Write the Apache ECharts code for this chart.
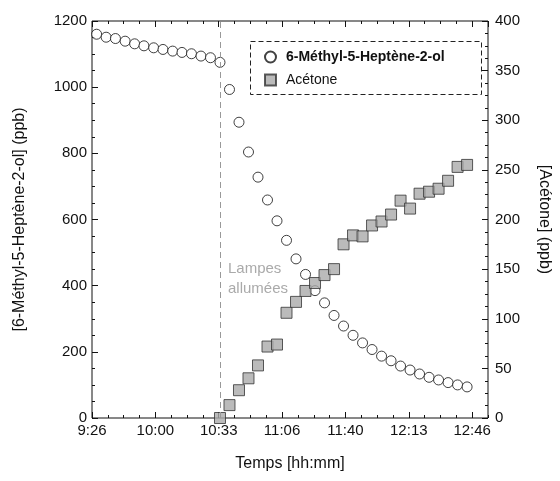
<!DOCTYPE html>
<html>
<head>
<meta charset="utf-8">
<script src="https://cdn.jsdelivr.net/npm/echarts@6/dist/echarts.min.js"></script>
<style>
  html, body { margin: 0; padding: 0; background: #fff; }
  #chart { width: 560px; height: 481px; }
</style>
</head>
<body>
<div id="chart"></div>
<script>
// time axis in minutes since midnight (9:26:40 .. 12:55)
var tMin = 1700 / 3, tMax = 775, tStep = 100 / 3;
var timeLabels = ['9:26', '10:00', '10:33', '11:06', '11:40', '12:13', '12:46'];
var lampTime = 634.4;

// sample times (minutes since midnight)
var times = [569.1, 574.1, 579.0, 584.1, 589.1, 594.0, 599.1, 604.0, 609.1, 614.0,
  619.0, 624.0, 629.0, 634.0, 639.0, 644.0, 649.0, 654.0, 659.0, 664.0,
  669.0, 674.0, 679.0, 684.0, 689.0, 694.0, 699.0, 704.0, 709.0, 714.0,
  719.0, 724.0, 729.0, 734.0, 739.0, 744.0, 749.0, 754.0, 759.0, 764.0];

var methylVals = [1160, 1151, 1147, 1139, 1131, 1125, 1119, 1114, 1109, 1105,
  1101, 1094, 1089, 1075, 993, 894, 804, 728, 659, 596,
  537, 481, 434, 385, 348, 310, 278, 250, 227, 207,
  187, 173, 157, 145, 133, 123, 115, 107, 100, 94];

// acetone starts at lamp switch-on (index 13 of times)
var acetoneVals = [0, 13, 28, 40, 53, 72, 74, 106, 117, 128,
  136, 144, 150, 175, 184, 183, 194, 198, 205, 219,
  211, 226, 228, 231, 239, 253, 255];

var nameMethyl = '6-Méthyl-5-Heptène-2-ol';
var nameAcetone = 'Acétone';

var methylData = methylVals.map(function (v, i) { return [times[i], v]; });
var acetoneData = acetoneVals.map(function (v, i) { return [times[i + 13], v]; });

var font = 'Liberation Sans, Arial, sans-serif';
var axisCol = '#111';

function xLabel(v) {
  var i = Math.round((v - tMin) / tStep);
  return timeLabels[i] || '';
}

// frame comes from the grid border, axes only give ticks + labels
function xAxisBase(pos, major, show) {
  return {
    type: 'value', position: pos, min: tMin, max: tMax,
    interval: major ? tStep : tStep / 4,
    axisLine: { show: false, onZero: false },
    axisTick: { show: true, inside: true, length: major ? 6 : 3, lineStyle: { color: axisCol, width: 1 } },
    axisLabel: {
      show: show, showMaxLabel: false, margin: 5,
      fontFamily: font, fontSize: 15, color: '#111', formatter: xLabel
    },
    splitLine: { show: false }
  };
}

function yAxisBase(pos, max, step) {
  return {
    type: 'value', position: pos, min: 0, max: max, interval: step,
    nameLocation: 'middle',
    nameTextStyle: { fontFamily: font, fontSize: 16, color: '#111' },
    axisLine: { show: false },
    axisTick: { show: true, inside: true, length: 6, lineStyle: { color: axisCol, width: 1 } },
    minorTick: { show: true, splitNumber: 4, length: 3, lineStyle: { color: axisCol, width: 1 } },
    axisLabel: {
      margin: 5, fontFamily: font, fontSize: 15, color: '#111',
      formatter: function (v) { return String(v); }
    },
    splitLine: { show: false }
  };
}

var xBottom = xAxisBase('bottom', true, true);
xBottom.name = 'Temps [hh:mm]';
xBottom.nameLocation = 'middle';
xBottom.nameGap = 38;
xBottom.nameTextStyle = { fontFamily: font, fontSize: 16, color: '#111' };

var yLeft = yAxisBase('left', 1200, 200);
yLeft.name = '[6-Méthyl-5-Heptène-2-ol] (ppb)';
yLeft.nameGap = 64;
yLeft.nameRotate = 90;

var yRight = yAxisBase('right', 400, 50);
yRight.name = '[Acétone] (ppb)';
yRight.nameGap = 48;
yRight.nameRotate = -90;
yRight.axisLabel.margin = 7;

var chart = echarts.init(document.getElementById('chart'));
chart.setOption({
  animation: false,
  backgroundColor: '#fff',
  grid: {
    left: 92, right: 71, top: 21, bottom: 63,
    show: true, borderColor: axisCol, borderWidth: 1, backgroundColor: 'rgba(0,0,0,0)'
  },
  legend: {
    orient: 'vertical', left: 259, top: 45, itemGap: 9,
    itemWidth: 11, itemHeight: 11,
    data: [nameMethyl, nameAcetone],
    formatter: function (n) { return n === nameMethyl ? '{b|' + n + '}' : n; },
    textStyle: {
      fontFamily: font, fontSize: 14, color: '#111', padding: [0, 0, 0, 5],
      rich: { b: { fontFamily: font, fontSize: 14, fontWeight: 'bold', color: '#111' } }
    }
  },
  graphic: [
    {
      type: 'rect', left: 250, top: 41, z: 10,
      shape: { width: 231, height: 53 },
      style: { fill: 'rgba(0,0,0,0)', stroke: '#222', lineWidth: 1, lineDash: [5, 3] }
    },
    {
      type: 'text', left: 228, top: 259, z: 10,
      style: {
        text: 'Lampes\nallumées', fill: '#aaa', font: '15px ' + font,
        align: 'center', lineHeight: 20, x: 30
      }
    }
  ],
  xAxis: [
    xBottom,
    xAxisBase('bottom', false, false),
    xAxisBase('top', true, false),
    xAxisBase('top', false, false)
  ],
  yAxis: [yLeft, yRight],
  series: [
    {
      name: nameMethyl, type: 'scatter', xAxisIndex: 0, yAxisIndex: 0,
      symbol: 'circle', symbolSize: 10, z: 3,
      itemStyle: { color: '#fff', borderColor: '#111', borderWidth: 1 },
      data: methylData,
      markLine: {
        silent: true, symbol: 'none', label: { show: false },
        lineStyle: { color: '#999', type: [6, 4], width: 1 },
        data: [{ xAxis: lampTime }]
      }
    },
    {
      name: nameAcetone, type: 'scatter', xAxisIndex: 0, yAxisIndex: 1,
      symbol: 'rect', symbolSize: 11, z: 4,
      itemStyle: { color: '#aaa', borderColor: '#333', borderWidth: 1 },
      data: acetoneData
    }
  ]
});
</script>
</body>
</html>
